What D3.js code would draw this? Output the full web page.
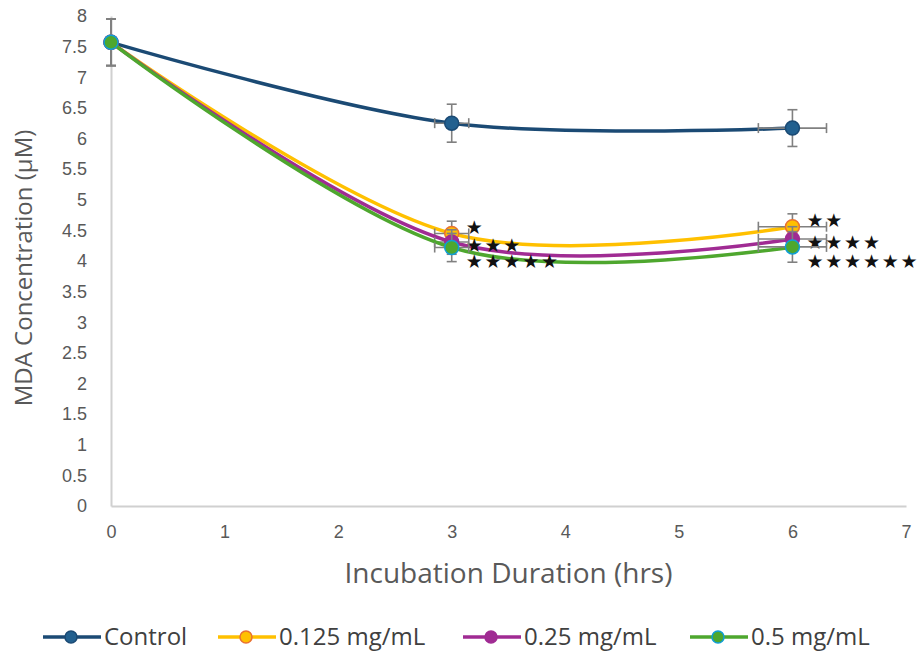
<!DOCTYPE html>
<html>
<head>
<meta charset="utf-8">
<script src="https://cdn.jsdelivr.net/npm/d3@7"></script>
<style>
  body { margin: 0; background: #fff; }
  svg { font-family: "Open Sans", sans-serif; }
  .axis text { fill: #595959; font-size: 18px; }
  .axis path { stroke: #d0d0d0; stroke-width: 2; }
</style>
</head>
<body>
<div id="chart"></div>
<script>
// values
var hours = [0, 3, 6];
var seriesNames = ['Control', '0.125 mg/mL', '0.25 mg/mL', '0.5 mg/mL'];
var controlMean = [7.57, 6.25, 6.17];
var lowMean = [7.57, 4.45, 4.56];
var midMean = [7.57, 4.31, 4.36];
var highMean = [7.57, 4.22, 4.23];
var controlErr = [0.38, 0.31, 0.30];
var lowErr = [0.38, 0.2, 0.21];
var midErr = [0.38, 0.2, 0.2];
var highErr = [0.38, 0.23, 0.25];
var hourErr = [0, 0.15, 0.3];
var lowStars = ['', '★', '★★'];
var midStars = ['', '★★★', '★★★★'];
var highStars = ['', '★★★★★', '★★★★★★'];
var xTicks = [0, 1, 2, 3, 4, 5, 6, 7];
var yTicks = [0, 0.5, 1, 1.5, 2, 2.5, 3, 3.5, 4, 4.5, 5, 5.5, 6, 6.5, 7, 7.5, 8];

var width = 923;
var height = 654;

var x = d3.scaleLinear().domain([0, 7]).range([111, 906]);
var y = d3.scaleLinear().domain([0, 8]).range([506, 16]);

var styles = [
  { line: '#1b4a74', fill: '#22608f', stroke: '#1b4a74', starDy: 0 },
  { line: '#ffc000', fill: '#ffc000', stroke: '#e97132', starDy: -6 },
  { line: '#a02b93', fill: '#a02b93', stroke: '#a02b93', starDy: 3 },
  { line: '#4ea72e', fill: '#4ea72e', stroke: '#0f9ed5', starDy: 14 }
];

var means = [controlMean, lowMean, midMean, highMean];
var errs = [controlErr, lowErr, midErr, highErr];
var stars = [['', '', ''], lowStars, midStars, highStars];

var series = seriesNames.map(function(name, i) {
  return {
    name: name,
    style: styles[i],
    points: hours.map(function(h, j) {
      return { h: h, v: means[i][j], e: errs[i][j], he: hourErr[j], star: stars[i][j] };
    })
  };
});

var svg = d3.select('#chart')
  .append('svg')
    .attr('width', width)
    .attr('height', height);

// axes
svg.append('g')
    .attr('class', 'axis')
    .attr('transform', 'translate(0,' + y(0) + ')')
    .call(d3.axisBottom(x).tickValues(xTicks).tickSize(0).tickPadding(19).tickFormat(d3.format('d')));

svg.append('g')
    .attr('class', 'axis')
    .attr('transform', 'translate(' + x(0) + ',0)')
    .call(d3.axisLeft(y).tickValues(yTicks).tickSize(0).tickPadding(24).tickFormat(d3.format('')));

svg.append('text')
    .attr('x', (x(0) + x(7)) / 2)
    .attr('y', 583)
    .attr('text-anchor', 'middle')
    .attr('fill', '#595959')
    .style('font-size', '28px')
    .text('Incubation Duration (hrs)');

svg.append('text')
    .attr('transform', 'translate(32,' + 268 + ') rotate(-90)')
    .attr('text-anchor', 'middle')
    .attr('fill', '#595959')
    .style('font-size', '24px')
    .text('MDA Concentration (µM)');

var line = d3.line()
    .x(function(d) { return x(d.h); })
    .y(function(d) { return y(d.v); })
    .curve(d3.curveCardinal.tension(0));

var groups = svg.selectAll('g.series')
  .data(series).enter()
  .append('g')
    .attr('class', 'series');

groups.append('path')
    .attr('d', function(d) { return line(d.points); })
    .attr('fill', 'none')
    .attr('stroke', function(d) { return d.style.line; })
    .attr('stroke-width', 3.5);

// error bars
var bars = groups.selectAll('g.err')
  .data(function(d) { return d.points; }).enter()
  .append('g')
    .attr('class', 'err')
    .attr('stroke', '#808080')
    .attr('stroke-width', 1.6);

bars.append('line')
    .attr('x1', function(d) { return x(d.h); })
    .attr('x2', function(d) { return x(d.h); })
    .attr('y1', function(d) { return y(d.v + d.e); })
    .attr('y2', function(d) { return y(d.v - d.e); });
bars.append('line')
    .attr('x1', function(d) { return x(d.h) - 5; })
    .attr('x2', function(d) { return x(d.h) + 5; })
    .attr('y1', function(d) { return y(d.v + d.e); })
    .attr('y2', function(d) { return y(d.v + d.e); });
bars.append('line')
    .attr('x1', function(d) { return x(d.h) - 5; })
    .attr('x2', function(d) { return x(d.h) + 5; })
    .attr('y1', function(d) { return y(d.v - d.e); })
    .attr('y2', function(d) { return y(d.v - d.e); });

var hbars = bars.filter(function(d) { return d.he > 0; });
hbars.append('line')
    .attr('x1', function(d) { return x(d.h - d.he); })
    .attr('x2', function(d) { return x(d.h + d.he); })
    .attr('y1', function(d) { return y(d.v); })
    .attr('y2', function(d) { return y(d.v); });
hbars.append('line')
    .attr('x1', function(d) { return x(d.h - d.he); })
    .attr('x2', function(d) { return x(d.h - d.he); })
    .attr('y1', function(d) { return y(d.v) - 5; })
    .attr('y2', function(d) { return y(d.v) + 5; });
hbars.append('line')
    .attr('x1', function(d) { return x(d.h + d.he); })
    .attr('x2', function(d) { return x(d.h + d.he); })
    .attr('y1', function(d) { return y(d.v) - 5; })
    .attr('y2', function(d) { return y(d.v) + 5; });

// markers and significance stars
groups.each(function(s) {
  d3.select(this).selectAll('circle')
    .data(s.points).enter()
    .append('circle')
      .attr('cx', function(d) { return x(d.h); })
      .attr('cy', function(d) { return y(d.v); })
      .attr('r', 7)
      .attr('fill', s.style.fill)
      .attr('stroke', s.style.stroke)
      .attr('stroke-width', 1.5);

  d3.select(this).selectAll('text.star')
    .data(s.points.filter(function(d) { return d.star; })).enter()
    .append('text')
      .attr('class', 'star')
      .attr('x', function(d) { return x(d.h) + 14; })
      .attr('y', function(d) { return y(d.v) + s.style.starDy; })
      .attr('dy', '0.35em')
      .attr('fill', '#111')
      .style('font-family', 'DejaVu Sans')
      .style('font-size', '19px')
      .style('letter-spacing', '1.8px')
      .text(function(d) { return d.star; });
});

// legend
var legendX = [43, 218, 463, 690];
var legend = svg.selectAll('g.legend')
  .data(series).enter()
  .append('g')
    .attr('class', 'legend')
    .attr('transform', function(d, i) { return 'translate(' + legendX[i] + ',637)'; });

legend.append('line')
    .attr('x1', 0)
    .attr('x2', 58)
    .attr('stroke', function(d) { return d.style.line; })
    .attr('stroke-width', 3.5);
legend.append('circle')
    .attr('cx', 28)
    .attr('r', 6)
    .attr('fill', function(d) { return d.style.fill; })
    .attr('stroke', function(d) { return d.style.stroke; })
    .attr('stroke-width', 1.5);
legend.append('text')
    .attr('x', 61)
    .attr('dy', '0.35em')
    .attr('fill', '#404040')
    .style('font-size', '24px')
    .text(function(d) { return d.name; });
</script>
</body>
</html>
